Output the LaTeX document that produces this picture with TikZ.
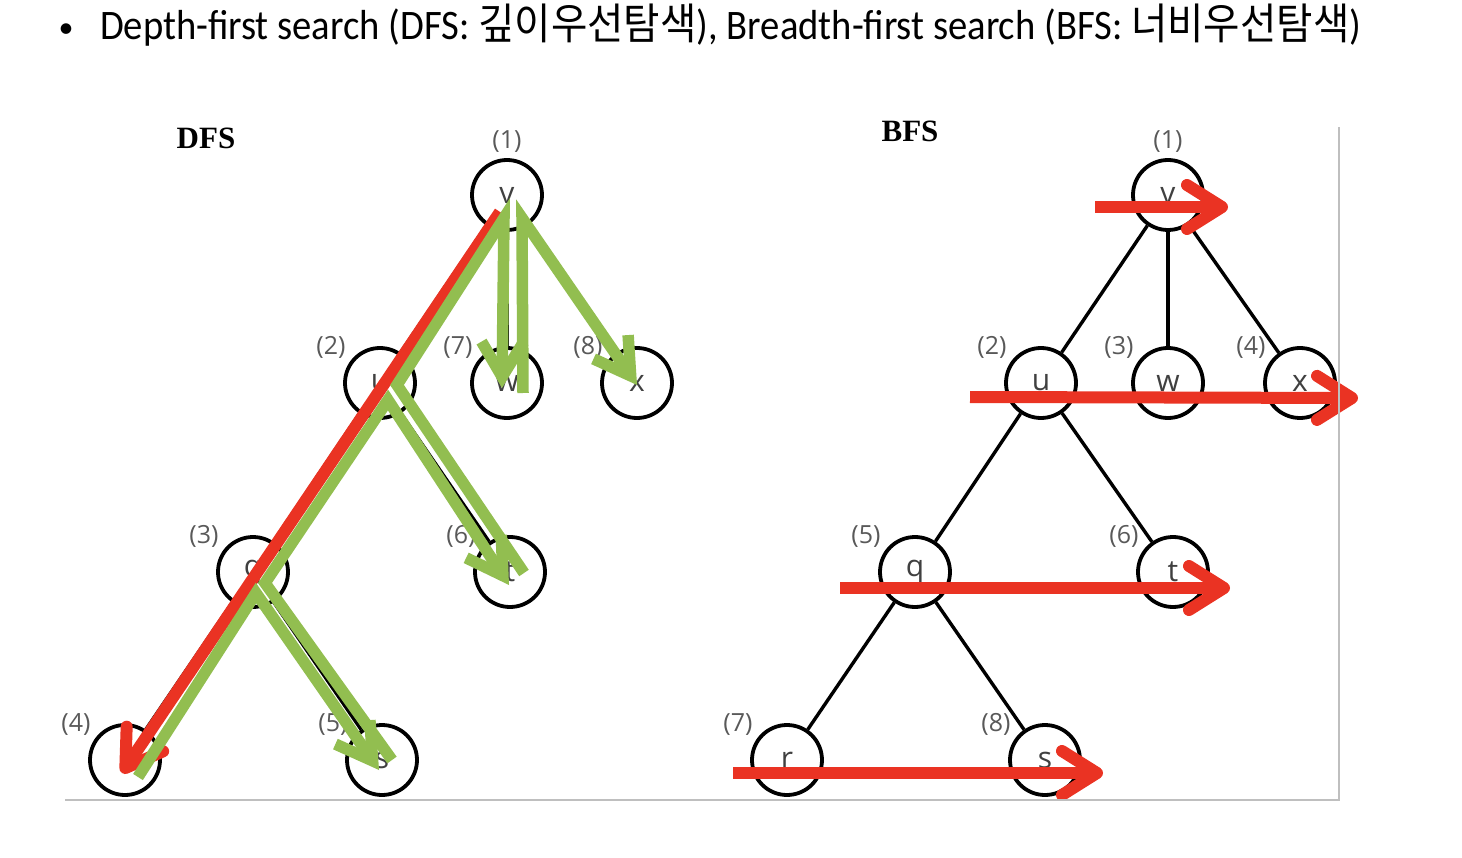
\documentclass[tikz,border=0pt]{standalone}
\usepackage{fontspec}
\setmainfont{Carlito}
\newfontfamily\kofont{Noto Sans CJK KR}
\newfontfamily\nodefont{Open Sans}
\newfontfamily\titlefont{Liberation Serif}
\usetikzlibrary{arrows.meta}
\definecolor{pathred}{RGB}{234,51,35}
\definecolor{pathgreen}{RGB}{146,190,80}

\begin{document}
\begin{tikzpicture}[x=1pt, y=-1pt,
    vtx/.style={draw, circle, line width=3.8pt, minimum size=70pt, inner sep=0pt, fill=white,
      text=black!75, font={\nodefont\fontsize{30}{32}\selectfont}},
    lbl/.style={text=black!65, inner sep=0pt, label distance=5pt, font={\nodefont\fontsize{25}{27}\selectfont}},
    edge/.style={line width=3.4pt},
    redarr/.style={pathred, line width=12pt, -{Straight Barb[length=35pt, width=44pt, round]}},
    grnarr/.style={pathgreen, line width=11.5pt, -{Straight Barb[length=35pt, width=42pt]}},
    frame/.style={black!25, line width=1.5pt}]
  \useasboundingbox (0,0) rectangle (1462,858);

  % heading
  \node[anchor=base, font={\fontsize{30}{36}\selectfont}] (bullet) at (66,38) {\textbullet};
  \node[anchor=base west, inner sep=0pt, font={\fontsize{42}{48}\selectfont}] (heading) at (100,40)
    {\scalebox{0.92}[1]{Depth-first search (DFS: {\kofont\fontsize{43}{48}\selectfont 깊이우선탐색}),
      Breadth-first search (BFS: {\kofont\fontsize{43}{48}\selectfont 너비우선탐색})}};

  % DFS tree
  \node[font={\titlefont\bfseries\fontsize{31}{34}\selectfont}] (dfstitle) at (206,138) {DFS};
  \node[vtx, label={[lbl]above:(1)}] (dv) at (507,195) {v};
  \node[vtx, label={[lbl]145:(2)}] (du) at (380,383) {u};
  \node[vtx, label={[lbl]145:(7)}] (dw) at (507,383) {w};
  \node[vtx, label={[lbl]145:(8)}] (dx) at (637,383) {x};
  \node[vtx, label={[lbl]145:(3)}] (dq) at (253,572) {q};
  \node[vtx, label={[lbl]145:(6)}] (dt) at (510,572) {t};
  \node[vtx, label={[lbl]145:(4)}] (dr) at (125,760) {r};
  \node[vtx, label={[lbl]145:(5)}] (ds) at (382,760) {s};

  \draw[edge] (dv) -- (du);
  \draw[edge] (dv) -- (dw);
  \draw[edge] (dv) -- (dx);
  \draw[edge] (du) -- (dq);
  \draw[edge] (du) -- (dt);
  \draw[edge] (dq) -- (dr);
  \draw[edge] (dq) -- (ds);

  % going down
  \draw[redarr] ([shift={(-7,17)}]dv.center) -- ([shift={(-3,13)}]dr.center);
  % coming back
  \draw[grnarr] ([shift={(13,17)}]dr.center) -- ([shift={(3,21)}]dq.center) -- ([shift={(-3,10)}]ds.center);
  \draw[grnarr] ([shift={(10,0)}]ds.center) -- ([shift={(12,11)}]dq.center) -- ([shift={(8,17)}]du.center)
    -- ([shift={(-1,13)}]dt.center);
  \draw[grnarr] ([shift={(14,1)}]dt.center) -- ([shift={(17,2)}]du.center) -- ([shift={(-3,23)}]dv.center)
    -- ([shift={(-5,5)}]dw.center);
  \draw[grnarr] ([shift={(16,10)}]dw.center) -- ([shift={(15,23)}]dv.center) -- ([shift={(0,2)}]dx.center);

  % BFS tree
  \node[font={\titlefont\bfseries\fontsize{31}{34}\selectfont}] (bfstitle) at (910,131) {BFS};
  \node[vtx, label={[lbl]above:(1)}] (bv) at (1168,195) {v};
  \node[vtx, label={[lbl]145:(2)}] (bu) at (1041,383) {u};
  \node[vtx, label={[lbl]145:(3)}] (bw) at (1168,383) {w};
  \node[vtx, label={[lbl]145:(4)}] (bx) at (1300,383) {x};
  \node[vtx, label={[lbl]145:(5)}] (bq) at (915,572) {q};
  \node[vtx, label={[lbl]145:(6)}] (bt) at (1173,572) {t};
  \node[vtx, label={[lbl]145:(7)}] (br) at (787,760) {r};
  \node[vtx, label={[lbl]145:(8)}] (bs) at (1045,760) {s};

  \draw[edge] (bv) -- (bu);
  \draw[edge] (bv) -- (bw);
  \draw[edge] (bv) -- (bx);
  \draw[edge] (bu) -- (bq);
  \draw[edge] (bu) -- (bt);
  \draw[edge] (bq) -- (br);
  \draw[edge] (bq) -- (bs);

  % level by level
  \draw[redarr] ([shift={(-73,12)}]bv.center) -- ([shift={(60,12)}]bv.center);
  \draw[redarr] ([shift={(-71,14)}]bu.center) -- ([shift={(58,15)}]bx.center);
  \draw[redarr] ([shift={(-75,16)}]bq.center) -- ([shift={(57,16)}]bt.center);
  \draw[redarr] ([shift={(-54,13)}]br.center) -- ([shift={(58,13)}]bs.center);

  \draw[frame] (65,800) -- (1339,800) -- (1339,127);
\end{tikzpicture}
\end{document}
